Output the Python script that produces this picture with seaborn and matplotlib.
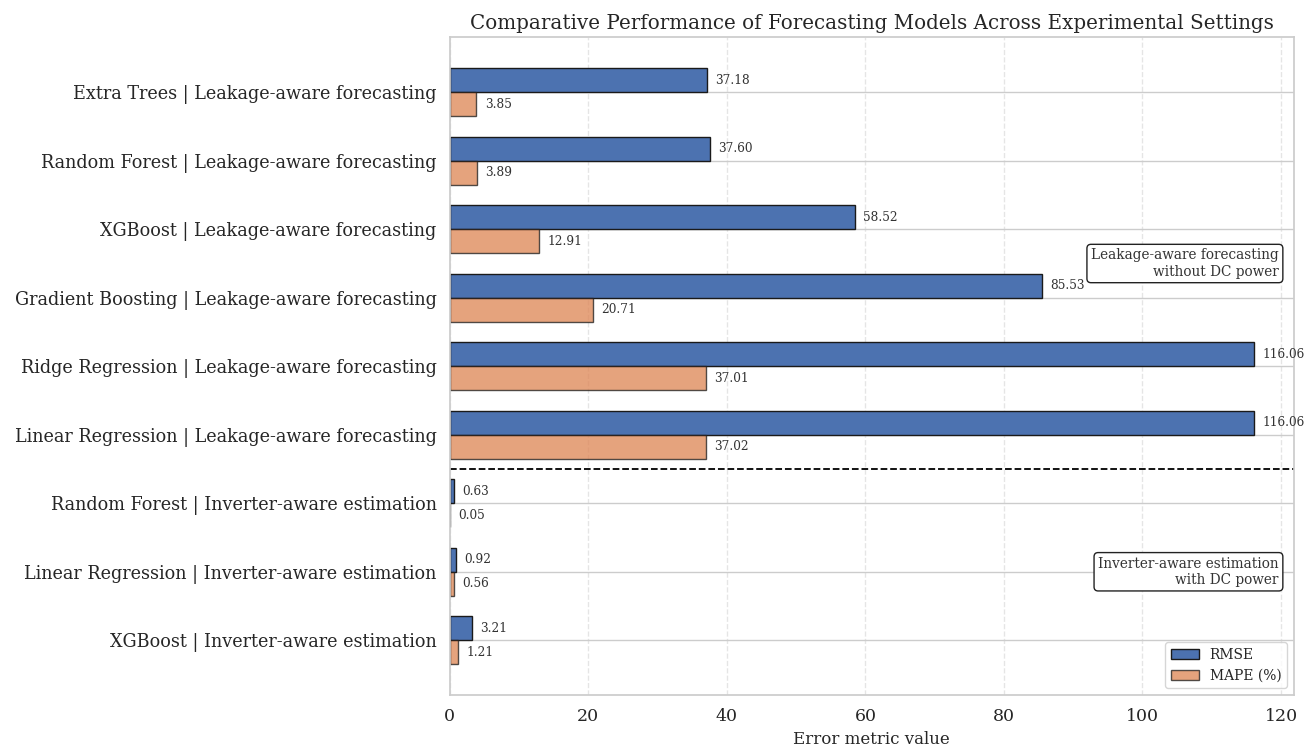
import pandas as pd
import matplotlib.pyplot as plt
import seaborn as sns

# 模型 | 实验设置
models = [
    'Extra Trees | Leakage-aware forecasting',
    'Random Forest | Leakage-aware forecasting',
    'XGBoost | Leakage-aware forecasting',
    'Gradient Boosting | Leakage-aware forecasting',
    'Ridge Regression | Leakage-aware forecasting',
    'Linear Regression | Leakage-aware forecasting',
    'Random Forest | Inverter-aware estimation',
    'Linear Regression | Inverter-aware estimation',
    'XGBoost | Inverter-aware estimation',
]
rmse = [37.18, 37.60, 58.52, 85.53, 116.06, 116.06, 0.63, 0.92, 3.21]
mape = [3.85, 3.89, 12.91, 20.71, 37.01, 37.02, 0.05, 0.56, 1.21]

df = pd.DataFrame({'model': models * 2,
                   'value': rmse + mape,
                   'metric': ['RMSE'] * len(models) + ['MAPE (%)'] * len(models)})

sns.set_theme(style='whitegrid')
plt.rcParams['font.family'] = ['DejaVu Serif']

fig, ax = plt.subplots(figsize=(13.15, 7.49), dpi=100)
sns.barplot(data=df, y='model', x='value', hue='metric', orient='h',
            order=models, hue_order=['RMSE', 'MAPE (%)'],
            palette=['#4C72B0', '#DD8452'], width=0.7, saturation=1,
            edgecolor='#1a1a1a', linewidth=1.0, ax=ax)

# MAPE 颜色稍浅
for p in ax.containers[1]:
    p.set_alpha(0.75)

xmax = max(rmse) * 1.05
ax.set_xlim(0, xmax)
ax.set_ylim(len(models) - 0.2, -0.8)

# 数值标注
for cont in ax.containers:
    for p in cont:
        w = p.get_width()
        ax.text(w + 1.2, p.get_y() + p.get_height() / 2, f'{w:.2f}',
                va='center', ha='left', fontsize=8.7, color='#333333')

ax.axhline(5.5, color='black', linestyle='--', linewidth=1.3)

box = dict(boxstyle='round,pad=0.3', facecolor='white', edgecolor='#222222')
ax.text(xmax * 0.982, 2.5, 'Leakage-aware forecasting\nwithout DC power',
        ha='right', va='center', fontsize=9.8, color='#333333', bbox=box)
ax.text(xmax * 0.982, 7.0, 'Inverter-aware estimation\nwith DC power',
        ha='right', va='center', fontsize=9.8, color='#333333', bbox=box)

ax.xaxis.grid(True, linestyle='--', alpha=0.5)
ax.yaxis.grid(True)
ax.set_axisbelow(True)

ax.set_title('Comparative Performance of Forecasting Models Across Experimental Settings', fontsize=14.3)
ax.set_xlabel('Error metric value', fontsize=12)
ax.set_ylabel('')
ax.tick_params(axis='y', labelsize=12.7)
ax.tick_params(axis='x', labelsize=12.5)

leg = ax.legend(loc='lower right', fontsize=10, title=None)
leg.get_patches()[1].set_alpha(0.75)

plt.subplots_adjust(left=0.342, right=0.984, top=0.95, bottom=0.072)
plt.savefig('out.png')
